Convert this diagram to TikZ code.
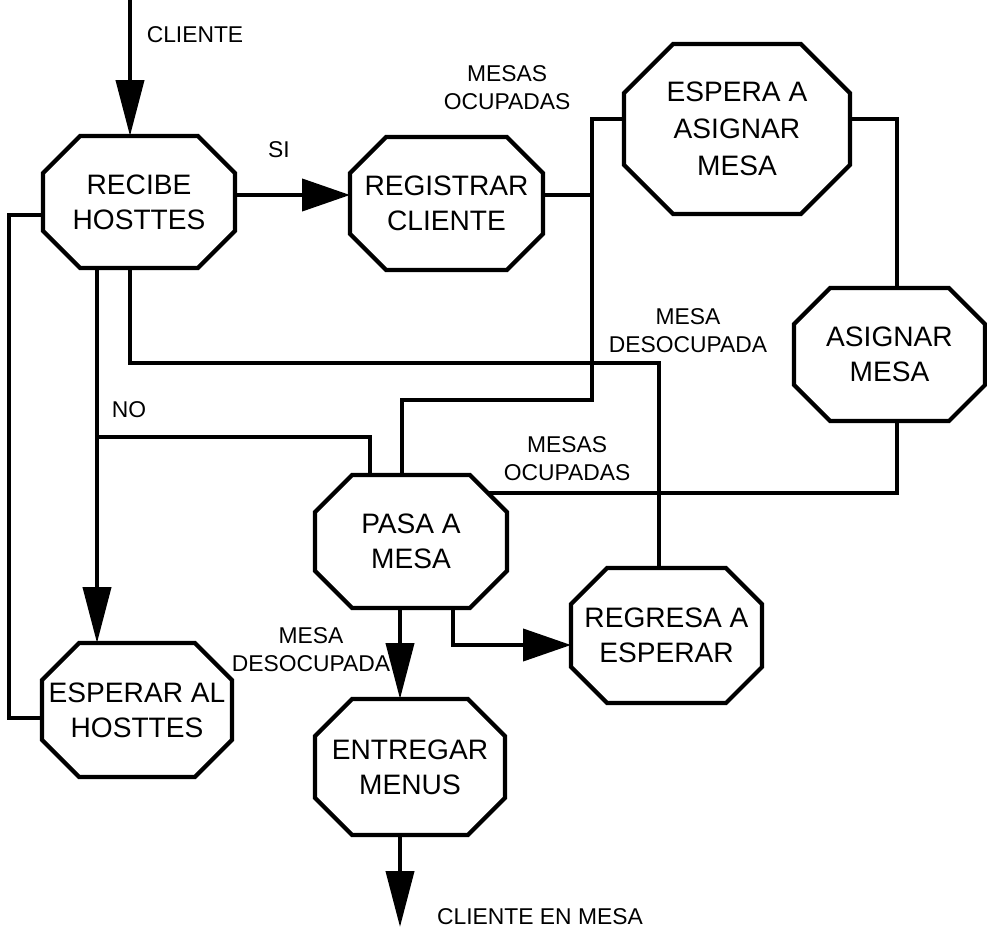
\documentclass[tikz,border=0pt]{standalone}
\usepackage{fontspec}
\setmainfont{Liberation Sans}
\usetikzlibrary{arrows.meta,calc}

% Octagonal outline traced round an (invisible) rectangular node; #2 = corner cut
\newcommand\octoutline[2]{%
  \draw[boxline]
    ($(#1.north west)+(#2,0)$) -- ($(#1.north east)+(-#2,0)$) --
    ($(#1.north east)+(0,#2)$) -- ($(#1.south east)+(0,-#2)$) --
    ($(#1.south east)+(-#2,0)$) -- ($(#1.south west)+(#2,0)$) --
    ($(#1.south west)+(0,-#2)$) -- ($(#1.north west)+(0,#2)$) -- cycle;}

\begin{document}
\begin{tikzpicture}[x=0.02cm,y=-0.02cm,
  octbox/.style={inner sep=0pt, outer sep=0pt, align=center,
    font=\fontsize{16}{20}\selectfont},
  boxline/.style={line width=2.4pt, line join=miter},
  wire/.style={line width=2.3pt},
  varr/.style={-{Triangle[length=1.12cm,width=0.56cm]}},
  harr/.style={-{Triangle[length=0.96cm,width=0.64cm]}},
  lbl/.style={inner sep=0pt, align=center, font=\fontsize{13}{16}\selectfont}]

\fill[white] (0,0) rectangle (987,939);
\useasboundingbox (0,0) rectangle (987,939);

% process boxes
\node[octbox, minimum width=3.84cm, minimum height=2.64cm] (rec) at (139,202) {RECIBE\\HOSTTES};
\node[octbox, minimum width=3.86cm, minimum height=2.66cm] (reg) at (446.5,203.5) {REGISTRAR\\CLIENTE};
\node[octbox, minimum width=4.52cm, minimum height=3.40cm, font=\fontsize{16}{21}\selectfont] (esp) at (737,129) {ESPERA A\\ASIGNAR\\MESA};
\node[octbox, minimum width=3.82cm, minimum height=2.66cm] (asi) at (889.5,354.5) {ASIGNAR\\MESA};
\node[octbox, minimum width=3.84cm, minimum height=2.66cm] (pas) at (411,541.5) {PASA A\\MESA};
\node[octbox, minimum width=3.82cm, minimum height=2.70cm] (rgr) at (666.5,635.5) {REGRESA A\\ESPERAR};
\node[octbox, minimum width=3.80cm, minimum height=2.68cm] (eal) at (137,710) {ESPERAR AL\\HOSTTES};
\node[octbox, minimum width=3.80cm, minimum height=2.72cm] (ent) at (410,767) {ENTREGAR\\MENUS};

\octoutline{rec}{37}
\octoutline{reg}{36}
\octoutline{esp}{49}
\octoutline{asi}{36}
\octoutline{pas}{37}
\octoutline{rgr}{36}
\octoutline{eal}{37}
\octoutline{ent}{37}

% free ends of the flow
\coordinate (cin) at (130,0);
\coordinate (cout) at (400,927);
\coordinate (j1) at (592,400);

% connectors
\draw[wire,varr] (cin) -- ($(rec.north)+(-9,0)$);
\draw[wire,harr] ($(rec.east)+(0,-7)$) coordinate (s1) -- (s1 -| reg.west);
\draw[wire] ($(reg.east)+(0,-8.5)$) coordinate (r1) -- (r1 -| j1);
\draw[wire] ($(esp.west)+(0,-10)$) -| (j1) -| ($(pas.north)+(-9,0)$);
\draw[wire] ($(esp.east)+(0,-10)$) -| ($(asi.north)+(7.5,0)$);
\draw[wire] ($(asi.south)+(7.5,0)$) |- ($(pas.north east)+(-19,18)$);
\draw[wire] ($(rec.south)+(-9,0)$) |- (659,363) -- ($(rgr.north)+(-7.5,0)$);
\draw[wire,varr] ($(rec.south)+(-42,0)$) -- ($(eal.north)+(-40,0)$);
\draw[wire] (97,437) -| ($(pas.north)+(-41,0)$);
\draw[wire] ($(eal.west)+(0,8)$) -| (9,300) |- ($(rec.west)+(0,13)$);
\draw[wire,varr] ($(pas.south)+(-11,0)$) -- ($(ent.north)+(-10,0)$);
\draw[wire,harr] ($(pas.south)+(42,0)$) |- ($(rgr.west)+(0,9.5)$);
\draw[wire,varr] ($(ent.south)+(-10,0)$) -- (cout);

% labels
\node[lbl] (lcli) at (195,35) {CLIENTE};
\node[lbl] (lsi) at (279,150) {SI};
\node[lbl] (locc1) at (507,88) {MESAS\\OCUPADAS};
\node[lbl] (ldes1) at (688,331) {MESA\\DESOCUPADA};
\node[lbl] (lno) at (129,410) {NO};
\node[lbl] (locc2) at (567,459) {MESAS\\OCUPADAS};
\node[lbl] (ldes2) at (311,650) {MESA\\DESOCUPADA};
\node[lbl] (lend) at (540,917) {CLIENTE EN MESA};
\end{tikzpicture}
\end{document}
